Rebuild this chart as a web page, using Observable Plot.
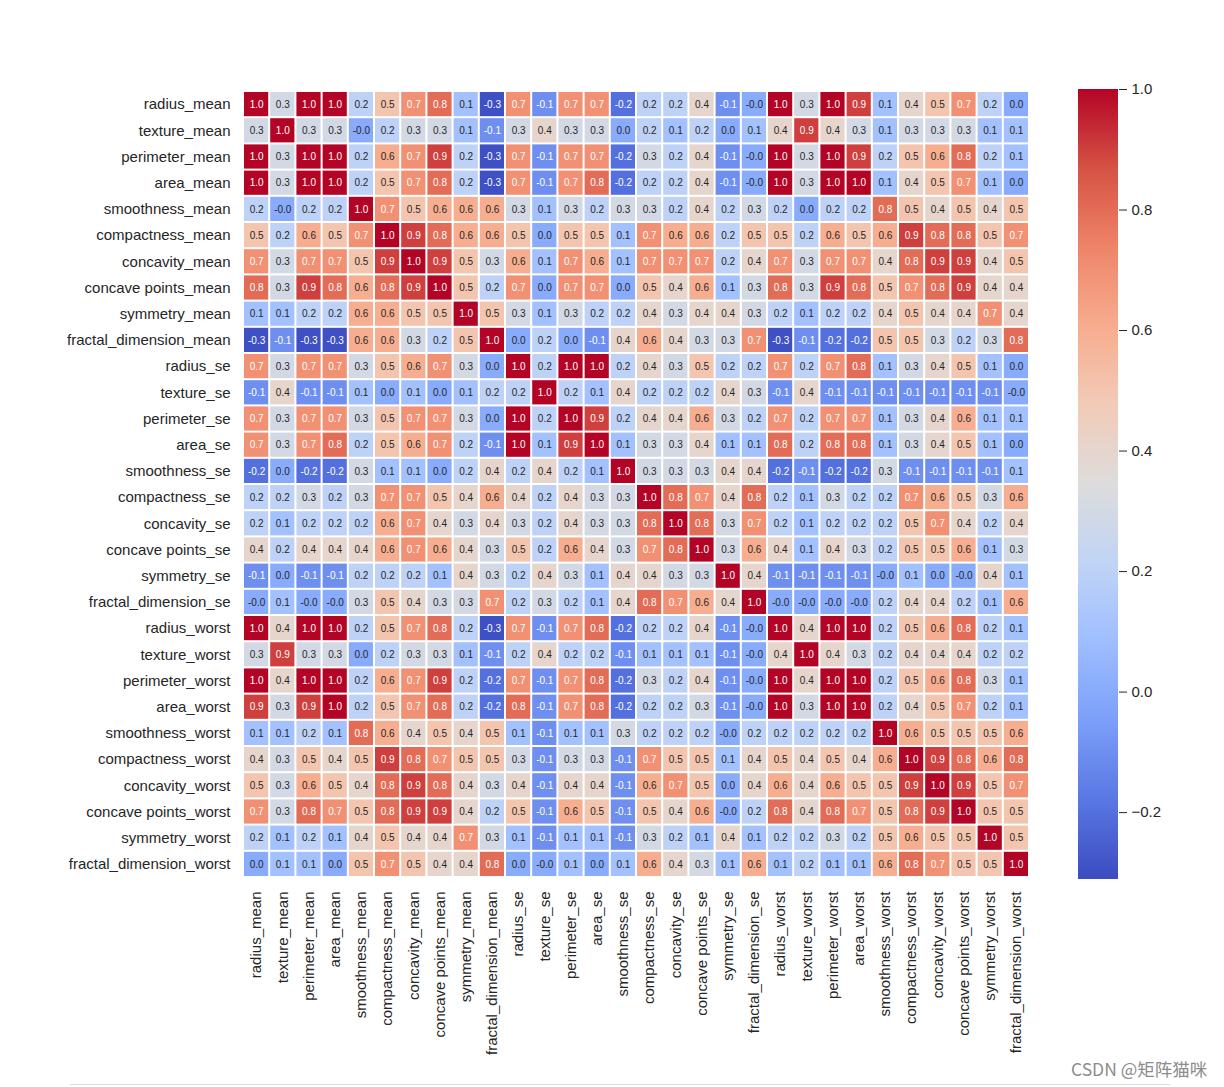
<!DOCTYPE html>
<html><head><meta charset="utf-8">
<script src="https://cdn.jsdelivr.net/npm/d3@7"></script>
<script src="https://cdn.jsdelivr.net/npm/@observablehq/plot@0.6"></script>
<style>
html,body{margin:0;padding:0;background:#fff;}
#wrap{position:relative;width:1224px;height:1087px;overflow:hidden;background:#fff;font-family:"Liberation Sans",Arial,sans-serif;}
#main{position:absolute;left:0;top:0;}
#cbar{position:absolute;left:1078px;top:0;}
#rule{position:absolute;left:70px;top:1084px;width:1100px;height:0;border-top:1px solid #dcdcdc;}
#mark{position:absolute;left:1071px;top:1056px;font-family:"Noto Sans CJK SC",sans-serif;font-size:17.5px;color:#8c8c8c;white-space:nowrap;}
</style></head><body>
<div id="wrap"><div id="main"></div><div id="cbar"></div><div id="rule"></div><div id="mark">CSDN @矩阵猫咪</div></div>
<script>
const features = ["radius_mean","texture_mean","perimeter_mean","area_mean","smoothness_mean","compactness_mean","concavity_mean","concave points_mean","symmetry_mean","fractal_dimension_mean","radius_se","texture_se","perimeter_se","area_se","smoothness_se","compactness_se","concavity_se","concave points_se","symmetry_se","fractal_dimension_se","radius_worst","texture_worst","perimeter_worst","area_worst","smoothness_worst","compactness_worst","concavity_worst","concave points_worst","symmetry_worst","fractal_dimension_worst"];

const corrRows = [
 [1.0,0.3,1.0,1.0,0.2,0.5,0.7,0.8,0.1,-0.3,0.7,-0.1,0.7,0.7,-0.2, 0.2,0.2,0.4,-0.1,-0.0,1.0,0.3,1.0,0.9,0.1,0.4,0.5,0.7,0.2,0.0],
 [0.3,1.0,0.3,0.3,-0.0,0.2,0.3,0.3,0.1,-0.1,0.3,0.4,0.3,0.3,0.0, 0.2,0.1,0.2,0.0,0.1,0.4,0.9,0.4,0.3,0.1,0.3,0.3,0.3,0.1,0.1],
 [1.0,0.3,1.0,1.0,0.2,0.6,0.7,0.9,0.2,-0.3,0.7,-0.1,0.7,0.7,-0.2, 0.3,0.2,0.4,-0.1,-0.0,1.0,0.3,1.0,0.9,0.2,0.5,0.6,0.8,0.2,0.1],
 [1.0,0.3,1.0,1.0,0.2,0.5,0.7,0.8,0.2,-0.3,0.7,-0.1,0.7,0.8,-0.2, 0.2,0.2,0.4,-0.1,-0.0,1.0,0.3,1.0,1.0,0.1,0.4,0.5,0.7,0.1,0.0],
 [0.2,-0.0,0.2,0.2,1.0,0.7,0.5,0.6,0.6,0.6,0.3,0.1,0.3,0.2,0.3, 0.3,0.2,0.4,0.2,0.3,0.2,0.0,0.2,0.2,0.8,0.5,0.4,0.5,0.4,0.5],
 [0.5,0.2,0.6,0.5,0.7,1.0,0.9,0.8,0.6,0.6,0.5,0.0,0.5,0.5,0.1, 0.7,0.6,0.6,0.2,0.5,0.5,0.2,0.6,0.5,0.6,0.9,0.8,0.8,0.5,0.7],
 [0.7,0.3,0.7,0.7,0.5,0.9,1.0,0.9,0.5,0.3,0.6,0.1,0.7,0.6,0.1, 0.7,0.7,0.7,0.2,0.4,0.7,0.3,0.7,0.7,0.4,0.8,0.9,0.9,0.4,0.5],
 [0.8,0.3,0.9,0.8,0.6,0.8,0.9,1.0,0.5,0.2,0.7,0.0,0.7,0.7,0.0, 0.5,0.4,0.6,0.1,0.3,0.8,0.3,0.9,0.8,0.5,0.7,0.8,0.9,0.4,0.4],
 [0.1,0.1,0.2,0.2,0.6,0.6,0.5,0.5,1.0,0.5,0.3,0.1,0.3,0.2,0.2, 0.4,0.3,0.4,0.4,0.3,0.2,0.1,0.2,0.2,0.4,0.5,0.4,0.4,0.7,0.4],
 [-0.3,-0.1,-0.3,-0.3,0.6,0.6,0.3,0.2,0.5,1.0,0.0,0.2,0.0,-0.1,0.4, 0.6,0.4,0.3,0.3,0.7,-0.3,-0.1,-0.2,-0.2,0.5,0.5,0.3,0.2,0.3,0.8],
 [0.7,0.3,0.7,0.7,0.3,0.5,0.6,0.7,0.3,0.0,1.0,0.2,1.0,1.0,0.2, 0.4,0.3,0.5,0.2,0.2,0.7,0.2,0.7,0.8,0.1,0.3,0.4,0.5,0.1,0.0],
 [-0.1,0.4,-0.1,-0.1,0.1,0.0,0.1,0.0,0.1,0.2,0.2,1.0,0.2,0.1,0.4, 0.2,0.2,0.2,0.4,0.3,-0.1,0.4,-0.1,-0.1,-0.1,-0.1,-0.1,-0.1,-0.1,-0.0],
 [0.7,0.3,0.7,0.7,0.3,0.5,0.7,0.7,0.3,0.0,1.0,0.2,1.0,0.9,0.2, 0.4,0.4,0.6,0.3,0.2,0.7,0.2,0.7,0.7,0.1,0.3,0.4,0.6,0.1,0.1],
 [0.7,0.3,0.7,0.8,0.2,0.5,0.6,0.7,0.2,-0.1,1.0,0.1,0.9,1.0,0.1, 0.3,0.3,0.4,0.1,0.1,0.8,0.2,0.8,0.8,0.1,0.3,0.4,0.5,0.1,0.0],
 [-0.2,0.0,-0.2,-0.2,0.3,0.1,0.1,0.0,0.2,0.4,0.2,0.4,0.2,0.1,1.0, 0.3,0.3,0.3,0.4,0.4,-0.2,-0.1,-0.2,-0.2,0.3,-0.1,-0.1,-0.1,-0.1,0.1],
 [0.2,0.2,0.3,0.2,0.3,0.7,0.7,0.5,0.4,0.6,0.4,0.2,0.4,0.3,0.3, 1.0,0.8,0.7,0.4,0.8,0.2,0.1,0.3,0.2,0.2,0.7,0.6,0.5,0.3,0.6],
 [0.2,0.1,0.2,0.2,0.2,0.6,0.7,0.4,0.3,0.4,0.3,0.2,0.4,0.3,0.3, 0.8,1.0,0.8,0.3,0.7,0.2,0.1,0.2,0.2,0.2,0.5,0.7,0.4,0.2,0.4],
 [0.4,0.2,0.4,0.4,0.4,0.6,0.7,0.6,0.4,0.3,0.5,0.2,0.6,0.4,0.3, 0.7,0.8,1.0,0.3,0.6,0.4,0.1,0.4,0.3,0.2,0.5,0.5,0.6,0.1,0.3],
 [-0.1,0.0,-0.1,-0.1,0.2,0.2,0.2,0.1,0.4,0.3,0.2,0.4,0.3,0.1,0.4, 0.4,0.3,0.3,1.0,0.4,-0.1,-0.1,-0.1,-0.1,-0.0,0.1,0.0,-0.0,0.4,0.1],
 [-0.0,0.1,-0.0,-0.0,0.3,0.5,0.4,0.3,0.3,0.7,0.2,0.3,0.2,0.1,0.4, 0.8,0.7,0.6,0.4,1.0,-0.0,-0.0,-0.0,-0.0,0.2,0.4,0.4,0.2,0.1,0.6],
 [1.0,0.4,1.0,1.0,0.2,0.5,0.7,0.8,0.2,-0.3,0.7,-0.1,0.7,0.8,-0.2, 0.2,0.2,0.4,-0.1,-0.0,1.0,0.4,1.0,1.0,0.2,0.5,0.6,0.8,0.2,0.1],
 [0.3,0.9,0.3,0.3,0.0,0.2,0.3,0.3,0.1,-0.1,0.2,0.4,0.2,0.2,-0.1, 0.1,0.1,0.1,-0.1,-0.0,0.4,1.0,0.4,0.3,0.2,0.4,0.4,0.4,0.2,0.2],
 [1.0,0.4,1.0,1.0,0.2,0.6,0.7,0.9,0.2,-0.2,0.7,-0.1,0.7,0.8,-0.2, 0.3,0.2,0.4,-0.1,-0.0,1.0,0.4,1.0,1.0,0.2,0.5,0.6,0.8,0.3,0.1],
 [0.9,0.3,0.9,1.0,0.2,0.5,0.7,0.8,0.2,-0.2,0.8,-0.1,0.7,0.8,-0.2, 0.2,0.2,0.3,-0.1,-0.0,1.0,0.3,1.0,1.0,0.2,0.4,0.5,0.7,0.2,0.1],
 [0.1,0.1,0.2,0.1,0.8,0.6,0.4,0.5,0.4,0.5,0.1,-0.1,0.1,0.1,0.3, 0.2,0.2,0.2,-0.0,0.2,0.2,0.2,0.2,0.2,1.0,0.6,0.5,0.5,0.5,0.6],
 [0.4,0.3,0.5,0.4,0.5,0.9,0.8,0.7,0.5,0.5,0.3,-0.1,0.3,0.3,-0.1, 0.7,0.5,0.5,0.1,0.4,0.5,0.4,0.5,0.4,0.6,1.0,0.9,0.8,0.6,0.8],
 [0.5,0.3,0.6,0.5,0.4,0.8,0.9,0.8,0.4,0.3,0.4,-0.1,0.4,0.4,-0.1, 0.6,0.7,0.5,0.0,0.4,0.6,0.4,0.6,0.5,0.5,0.9,1.0,0.9,0.5,0.7],
 [0.7,0.3,0.8,0.7,0.5,0.8,0.9,0.9,0.4,0.2,0.5,-0.1,0.6,0.5,-0.1, 0.5,0.4,0.6,-0.0,0.2,0.8,0.4,0.8,0.7,0.5,0.8,0.9,1.0,0.5,0.5],
 [0.2,0.1,0.2,0.1,0.4,0.5,0.4,0.4,0.7,0.3,0.1,-0.1,0.1,0.1,-0.1, 0.3,0.2,0.1,0.4,0.1,0.2,0.2,0.3,0.2,0.5,0.6,0.5,0.5,1.0,0.5],
 [0.0,0.1,0.1,0.0,0.5,0.7,0.5,0.4,0.4,0.8,0.0,-0.0,0.1,0.0,0.1, 0.6,0.4,0.3,0.1,0.6,0.1,0.2,0.1,0.1,0.6,0.8,0.7,0.5,0.5,1.0]
];

const colorDomain = [-0.311, 1.0];
const colorTicks = [-0.2, 0.0, 0.2, 0.4, 0.6, 0.8, 1.0];
const coolwarmStops = ["#3b4cc0","#5977e3","#7b9ff9","#9ebeff","#c0d4f5","#dddcdc","#f2cbb7","#f7ac8e","#ee8468","#d65244","#b40426"];

const pw = d3.piecewise(d3.interpolateRgb, coolwarmStops);
const coolwarm = (t) => pw(Math.max(0, Math.min(1, t)));
const toT = (v) => (v - colorDomain[0]) / (colorDomain[1] - colorDomain[0]);

function luminance(v) {
  const c = d3.rgb(coolwarm(toT(v)));
  const f = (x) => { x = x / 255; return x <= 0.03928 ? x / 12.92 : Math.pow((x + 0.055) / 1.055, 2.4); };
  return 0.2126 * f(c.r) + 0.7152 * f(c.g) + 0.0722 * f(c.b);
}
const fmt = (v) => Object.is(v, -0) ? "-0.0" : v.toFixed(1);

const cells = [];
corrRows.forEach((row, i) => row.forEach((v, j) => cells.push({row: features[i], col: features[j], value: v})));
const darkText = cells.filter(d => luminance(d.value) > 0.408);
const lightText = cells.filter(d => luminance(d.value) <= 0.408);

const FONT = '"Liberation Sans", Arial, sans-serif';

const main = Plot.plot({
  width: 1224, height: 1087,
  marginLeft: 243, marginRight: 195, marginTop: 91, marginBottom: 210,
  style: {fontFamily: FONT, fontSize: "15px", color: "#262626", background: "transparent", overflow: "visible"},
  x: {domain: features, label: null, tickSize: 0, tickPadding: 14, tickRotate: -90, padding: 0, round: false},
  y: {domain: features, label: null, tickSize: 0, tickPadding: 13, padding: 0, round: false},
  color: {type: "linear", domain: colorDomain, interpolate: coolwarm},
  marks: [
    Plot.cell(cells, {x: "col", y: "row", fill: "value", inset: 1}),
    Plot.text(darkText, {x: "col", y: "row", text: d => fmt(d.value), fill: "#262626", fontSize: 10}),
    Plot.text(lightText, {x: "col", y: "row", text: d => fmt(d.value), fill: "#ffffff", fontSize: 10})
  ]
});
document.getElementById("main").appendChild(main);

const slices = d3.range(colorDomain[0], colorDomain[1], 0.002);
const cbar = Plot.plot({
  width: 120, height: 1087,
  marginLeft: 0, marginRight: 80, marginTop: 89, marginBottom: 208,
  style: {fontFamily: FONT, fontSize: "15px", color: "#262626", background: "transparent", overflow: "visible"},
  x: {domain: [0, 1], axis: null},
  y: {domain: colorDomain, axis: "right", ticks: colorTicks, tickFormat: d3.format(".1f"), tickSize: 8, tickPadding: 5, label: null},
  color: {type: "linear", domain: colorDomain, interpolate: coolwarm},
  marks: [
    Plot.rect(slices, {x1: 0, x2: 1, y1: d => d, y2: d => Math.min(d + 0.0025, colorDomain[1]), fill: d => d + 0.001, shapeRendering: "crispEdges"})
  ]
});
document.getElementById("cbar").appendChild(cbar);
</script>
</body></html>
